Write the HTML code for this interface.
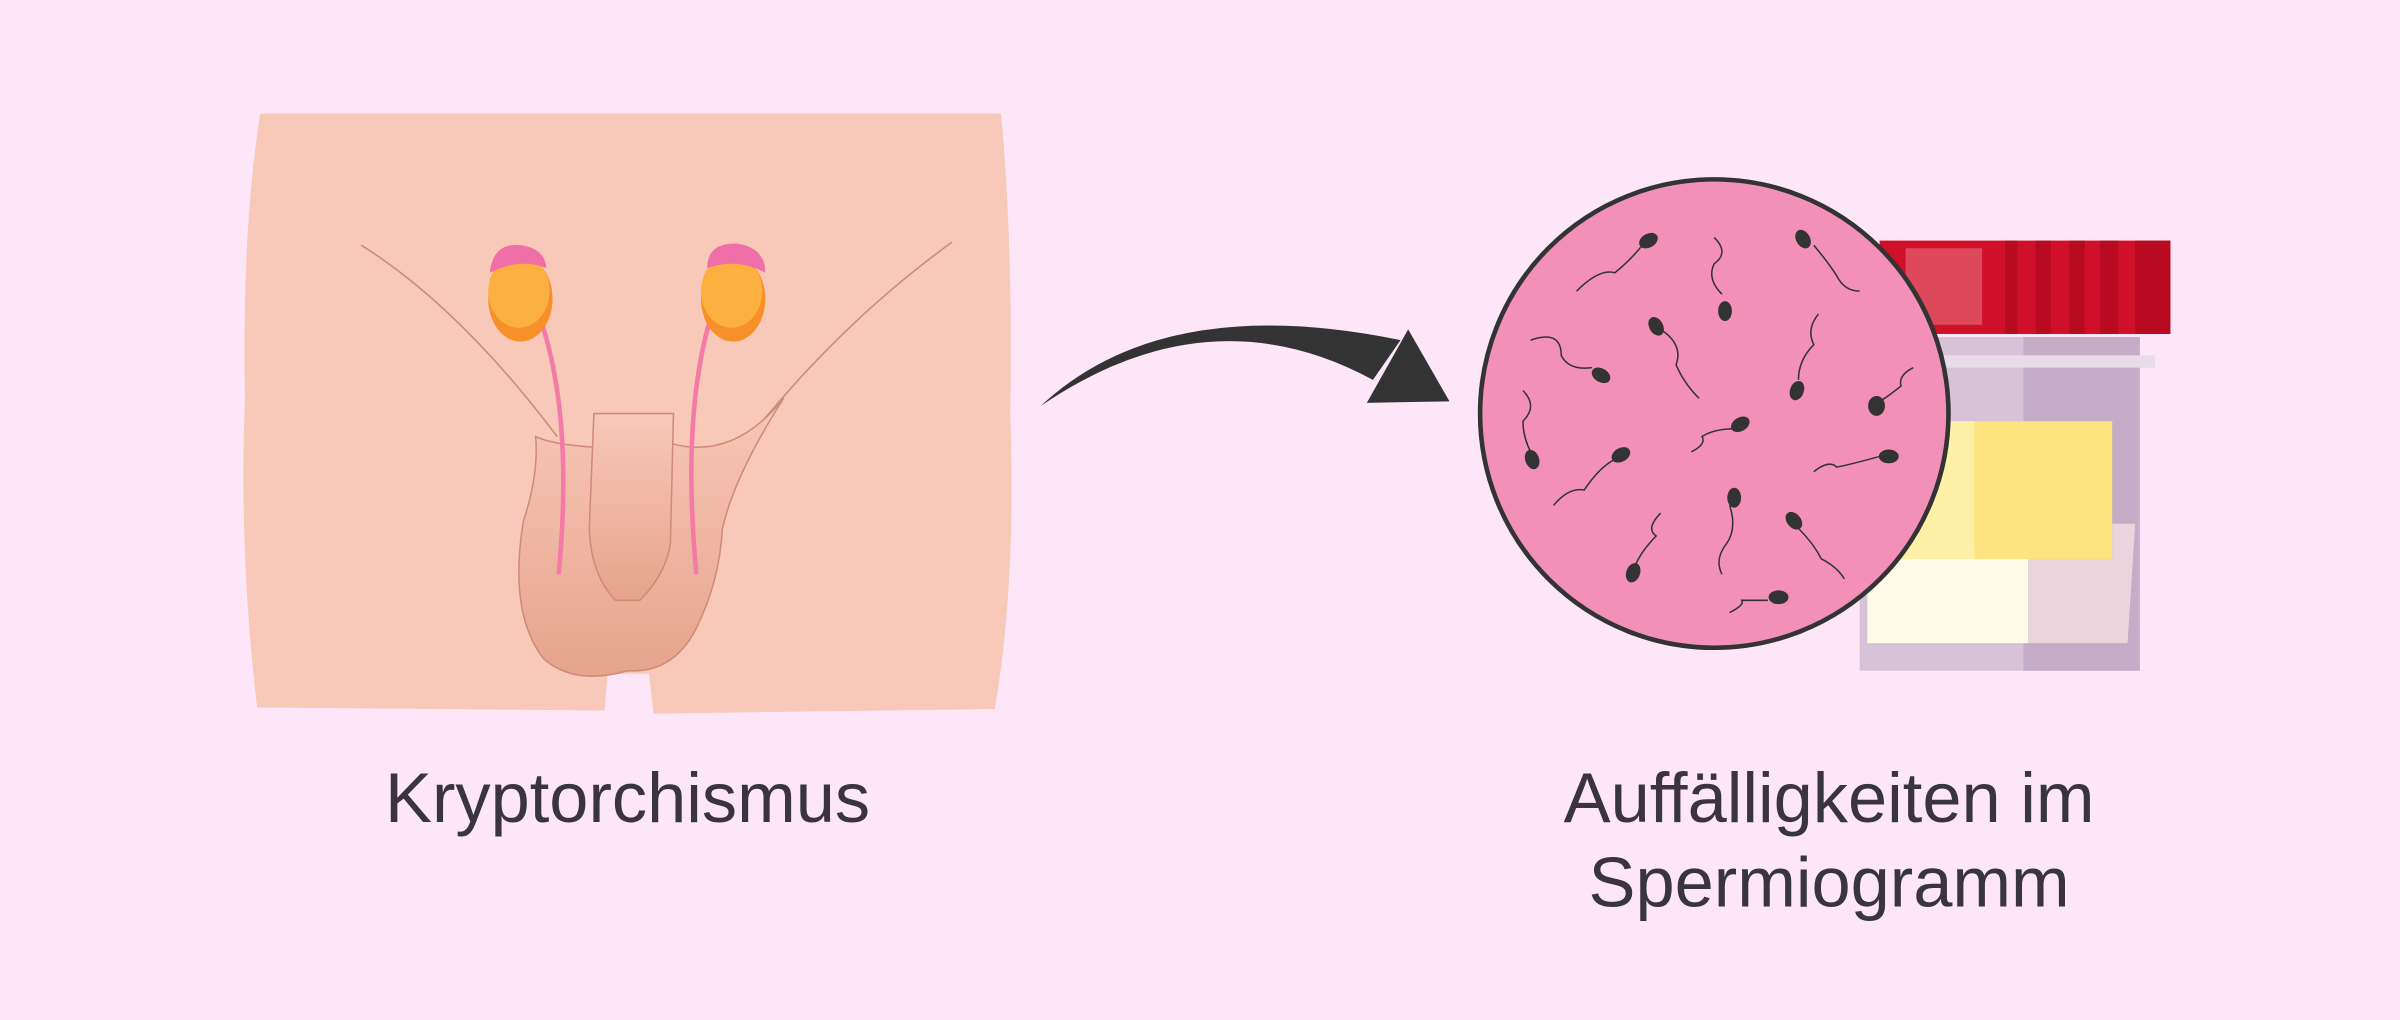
<!DOCTYPE html>
<html><head><meta charset="utf-8"><style>
html,body{margin:0;padding:0;background:#fde6f8;}
svg{display:block}
</style></head><body>
<svg width="2400" height="1020" viewBox="0 0 1568 666" xmlns="http://www.w3.org/2000/svg">
<rect width="1568" height="666" fill="#fde6f8"/>
<!-- body -->
<path d="M170,74 L654,74 Q662,160 660,270 Q664,380 650,463 L427,466 L424,440 L397,440 L395,464 L168,462 Q156,360 160,260 Q158,150 170,74 Z" fill="#f8c8b8"/>
<path d="M236,160 Q300,200 364,285" stroke="#c98a7a" stroke-width="1" fill="none"/>
<path d="M622,158 Q550,210 490,285" stroke="#c98a7a" stroke-width="1" fill="none"/>
<defs><linearGradient id="g1" x1="0" y1="0" x2="0" y2="1"><stop offset="0" stop-color="#f8c8b8"/><stop offset="1" stop-color="#e6a48c"/></linearGradient></defs>
<path d="M350,285 Q352,310 342,340 Q332,400 355,430 Q375,448 410,438 Q440,440 455,410 Q470,380 472,345 Q480,310 512,260 Q480,300 440,290 L388,292 Q360,290 350,285 Z" fill="url(#g1)" stroke="#d08a78" stroke-width="1"/>
<path d="M388,270 L440,270 L438,355 Q435,375 418,392 L402,392 Q386,375 385,345 Z" fill="url(#g1)" stroke="#d08a78" stroke-width="1"/>
<path d="M352,205 Q375,270 365,375" stroke="#f47aa8" stroke-width="3" fill="none"/>
<path d="M465,205 Q445,270 455,375" stroke="#f47aa8" stroke-width="3" fill="none"/>
<ellipse cx="340" cy="195" rx="21" ry="28" fill="#f8902a"/>
<ellipse cx="339" cy="190" rx="20" ry="24" fill="#fbb040"/>
<path d="M320,178 Q322,158 340,160 Q356,162 357,175 Q340,168 320,178Z" fill="#f06fa8"/>
<ellipse cx="479" cy="195" rx="21" ry="28" fill="#f8902a"/>
<ellipse cx="478" cy="190" rx="20" ry="24" fill="#fbb040"/>
<path d="M462,175 Q462,158 482,159 Q500,162 500,178 Q482,168 462,175Z" fill="#f06fa8"/>
<!-- arrow -->
<path d="M680,265 Q760,190 915,222 L897,248 Q790,190 680,265 Z" fill="#333"/>
<path d="M893,263 L920,215 L947,262 Z" fill="#333"/>
<!-- cup -->
<rect x="1215" y="220" width="183" height="218" fill="#d7c3d8"/>
<rect x="1322" y="220" width="76" height="218" fill="#c4adc6"/>
<rect x="1228" y="232" width="180" height="8" fill="#e8dce8"/>
<rect x="1240" y="275" width="140" height="90" fill="#fde47e"/>
<rect x="1240" y="275" width="50" height="90" fill="#fff0a8"/>
<rect x="1220" y="365" width="105" height="55" fill="#fffbe8"/>
<path d="M1325,365 L1380,365 L1380,342 L1395,342 L1390,420 L1325,420 Z" fill="#e8d6dc"/>
<rect x="1228" y="157" width="190" height="61" fill="#d01028"/>
<g fill="#b80a20"><rect x="1310" y="157" width="8" height="61"/><rect x="1330" y="157" width="10" height="61"/><rect x="1352" y="157" width="10" height="61"/><rect x="1372" y="157" width="12" height="61"/><rect x="1395" y="157" width="23" height="61"/></g>
<rect x="1245" y="162" width="50" height="50" fill="#e05868" opacity="0.8"/>
<!-- circle -->
<circle cx="1120" cy="270" r="153" fill="#f290b8" stroke="#333" stroke-width="3"/>
<g fill="#333" stroke="#333" stroke-width="1">
<g fill="none">
<path d="M1030,190 Q1045,175 1055,178 Q1065,170 1073,160"/>
<path d="M1120,155 Q1130,165 1120,172 Q1115,182 1125,192"/>
<path d="M1215,190 Q1205,190 1200,180 Q1195,172 1185,160"/>
<path d="M1000,222 Q1020,215 1020,232 Q1025,242 1040,240"/>
<path d="M1085,215 Q1100,225 1095,238 Q1100,250 1110,260"/>
<path d="M1188,205 Q1180,215 1185,225 Q1175,235 1175,248"/>
<path d="M1250,240 Q1240,245 1242,252 Q1232,260 1228,262"/>
<path d="M995,255 Q1005,265 995,275 Q995,285 1000,295"/>
<path d="M1105,295 Q1115,290 1112,285 Q1120,280 1132,280"/>
<path d="M1015,330 Q1025,318 1035,320 Q1045,305 1055,300"/>
<path d="M1185,308 Q1195,300 1200,305 Q1210,303 1228,298"/>
<path d="M1130,330 Q1135,345 1128,355 Q1120,365 1125,375"/>
<path d="M1085,335 Q1075,345 1082,350 Q1072,360 1068,370"/>
<path d="M1175,345 Q1185,355 1190,365 Q1200,370 1205,378"/>
<path d="M1130,400 Q1140,395 1138,392 Q1148,392 1155,392"/>
</g>
<ellipse cx="1077" cy="157" rx="6" ry="4" transform="rotate(-30 1077 157)"/>
<ellipse cx="1127" cy="203" rx="4" ry="6"/>
<ellipse cx="1178" cy="156" rx="4" ry="6" transform="rotate(-30 1178 156)"/>
<ellipse cx="1046" cy="245" rx="6" ry="4" transform="rotate(30 1046 245)"/>
<ellipse cx="1082" cy="213" rx="4" ry="6" transform="rotate(-30 1082 213)"/>
<ellipse cx="1174" cy="255" rx="4" ry="6" transform="rotate(20 1174 255)"/>
<ellipse cx="1226" cy="265" rx="5" ry="6"/>
<ellipse cx="1001" cy="300" rx="4" ry="6" transform="rotate(-20 1001 300)"/>
<ellipse cx="1137" cy="277" rx="6" ry="4" transform="rotate(-30 1137 277)"/>
<ellipse cx="1059" cy="297" rx="6" ry="4" transform="rotate(-30 1059 297)"/>
<ellipse cx="1234" cy="298" rx="6" ry="4"/>
<ellipse cx="1133" cy="325" rx="4" ry="6"/>
<ellipse cx="1067" cy="374" rx="4" ry="6" transform="rotate(20 1067 374)"/>
<ellipse cx="1172" cy="340" rx="4" ry="6" transform="rotate(-40 1172 340)"/>
<ellipse cx="1162" cy="390" rx="6" ry="4"/>
</g>
<g font-family="Liberation Sans, sans-serif" font-size="46" fill="#3a3340" text-anchor="middle">
<text x="410" y="537">Kryptorchismus</text>
<text x="1195" y="537">Auffälligkeiten im</text>
<text x="1195" y="592">Spermiogramm</text>
</g>
</svg>
</body></html>
